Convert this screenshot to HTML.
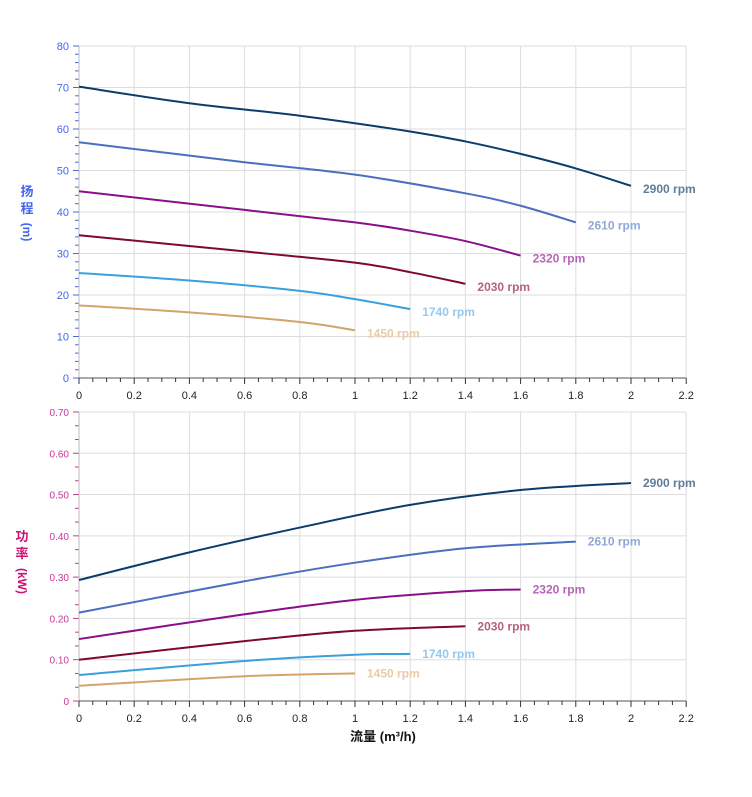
<!DOCTYPE html>
<html><head><meta charset="utf-8"><style>
body{margin:0;background:#fff;}
svg{display:block;font-family:"Liberation Sans","Noto Sans CJK SC",sans-serif;}
</style></head><body>
<svg id="s" width="752" height="797" viewBox="0 0 752 797" xmlns="http://www.w3.org/2000/svg"></svg>
<script>
const s=document.getElementById('s');let h='';
const X=q=>79+q*276, YT=v=>378-v*4.15, YB=p=>701-p*412.9;
for(let i=0;i<=11;i++){const x=X(i*0.2);h+=`<line x1="${x}" y1="46" x2="${x}" y2="378" stroke="#ddd"/><line x1="${x}" y1="412" x2="${x}" y2="701" stroke="#ddd"/>`;}
for(let i=0;i<=8;i++){const y=YT(i*10);h+=`<line x1="79" y1="${y}" x2="686" y2="${y}" stroke="#ddd"/><text x="69" y="${y+4}" font-size="11" fill="#4466ee" text-anchor="end">${i*10}</text><line x1="73" y1="${y}" x2="79" y2="${y}" stroke="#4466ee"/>`;}
for(let i=0;i<40;i++){if(i%5)h+=`<line x1="75" y1="${YT(i*2)}" x2="79" y2="${YT(i*2)}" stroke="#4466ee"/>`;}
for(let i=0;i<=7;i++){const y=YB(i*0.1);h+=`<line x1="79" y1="${y}" x2="686" y2="${y}" stroke="#ddd"/><text x="69" y="${y+4}" font-size="10" fill="#cc3399" text-anchor="end">${i==0?'0':(i/10).toFixed(2)}</text><line x1="73" y1="${y}" x2="79" y2="${y}" stroke="#cc3399"/>`;}
for(let i=0;i<21;i++){if(i%3)h+=`<line x1="75" y1="${YB(i/30)}" x2="79" y2="${YB(i/30)}" stroke="#cc3399"/>`;}
h+=`<line x1="79" y1="46" x2="79" y2="378" stroke="#bbb"/><line x1="79" y1="412" x2="79" y2="701" stroke="#bbb"/>`;
for(const yb of [378,701]){h+=`<line x1="79" y1="${yb}" x2="686" y2="${yb}" stroke="#555"/>`;
for(let i=0;i<=44;i++){const x=X(i*0.05);h+=`<line x1="${x}" y1="${yb}" x2="${x}" y2="${yb+(i%4?4:6)}" stroke="#333"/>`;}
for(let i=0;i<=11;i++){const v=+(i*0.2).toFixed(1);h+=`<text x="${X(i*0.2)}" y="${yb+21}" font-size="11" fill="#222" text-anchor="middle">${v}</text>`;}}
function path(pts,Y){const P=pts.map(p=>[X(p[0]),Y(p[1])]);let d=`M${P[0][0]},${P[0][1]}`;
for(let i=0;i<P.length-1;i++){const p0=P[i-1]||P[i],p1=P[i],p2=P[i+1],p3=P[i+2]||P[i+1];
d+=` C${p1[0]+(p2[0]-p0[0])/6},${p1[1]+(p2[1]-p0[1])/6} ${p2[0]-(p3[0]-p1[0])/6},${p2[1]-(p3[1]-p1[1])/6} ${p2[0]},${p2[1]}`;}return d;}
const S=[
['2900','#0b3d6b','#5f7d99',[[0,70.2],[0.4,66.2],[0.8,63.2],[1.2,59.4],[1.4,57],[1.6,54],[1.8,50.5],[2,46.3]],[[0,0.293],[0.4,0.36],[0.8,0.42],[1.2,0.475],[1.6,0.511],[2,0.528]]],
['2610','#4a6fbf','#8fa8d8',[[0,56.8],[0.6,52],[1.0,49],[1.4,44.5],[1.6,41.5],[1.8,37.5]],[[0,0.214],[0.6,0.29],[1.0,0.335],[1.4,0.37],[1.8,0.386]]],
['2320','#8b0f8b','#b565b5',[[0,45],[0.6,40.5],[1.0,37.5],[1.2,35.5],[1.4,33],[1.6,29.5]],[[0,0.15],[0.6,0.21],[1.0,0.245],[1.4,0.266],[1.6,0.27]]],
['2030','#7d0a2a','#b5637a',[[0,34.4],[0.6,30.5],[1.0,27.8],[1.2,25.5],[1.4,22.7]],[[0,0.10],[0.6,0.145],[1.0,0.17],[1.4,0.181]]],
['1740','#3aa0dc','#94c9ee',[[0,25.3],[0.4,23.5],[0.8,21],[1.0,19],[1.2,16.6]],[[0,0.063],[0.6,0.097],[1.0,0.112],[1.2,0.114]]],
['1450','#d4a36a','#e9cba5',[[0,17.5],[0.4,15.8],[0.8,13.5],[1.0,11.5]],[[0,0.037],[0.6,0.06],[1.0,0.067]]]];
for(const [n,c,lc,t,b] of S){
h+=`<path d="${path(t,YT)}" fill="none" stroke="${c}" stroke-width="2"/><path d="${path(b,YB)}" fill="none" stroke="${c}" stroke-width="2"/>`;
const lt=t[t.length-1],lb=b[b.length-1];
h+=`<text x="${X(lt[0])+12}" y="${YT(lt[1])+7}" font-size="12" font-weight="bold" fill="${lc}">${n} rpm</text>`;
h+=`<text x="${X(lb[0])+12}" y="${YB(lb[1])+4}" font-size="12" font-weight="bold" fill="${lc}">${n} rpm</text>`;}
h+=`<text x="27" y="196" font-size="13" font-weight="bold" fill="#4466ee" text-anchor="middle">扬</text><text x="27" y="213" font-size="13" font-weight="bold" fill="#4466ee" text-anchor="middle">程</text><text transform="translate(23,232) rotate(90)" font-size="12" font-weight="bold" fill="#4466ee" text-anchor="middle">(m)</text>`;
h+=`<text x="22" y="541" font-size="13" font-weight="bold" fill="#cc1177" text-anchor="middle">功</text><text x="22" y="558" font-size="13" font-weight="bold" fill="#cc1177" text-anchor="middle">率</text><text transform="translate(18,581) rotate(90)" font-size="12" font-weight="bold" fill="#cc1177" text-anchor="middle">(kW)</text>`;
h+=`<text x="383" y="741" font-size="13" font-weight="bold" fill="#111" text-anchor="middle">流量 (m³/h)</text>`;
s.innerHTML=h;
</script>
</body></html>
